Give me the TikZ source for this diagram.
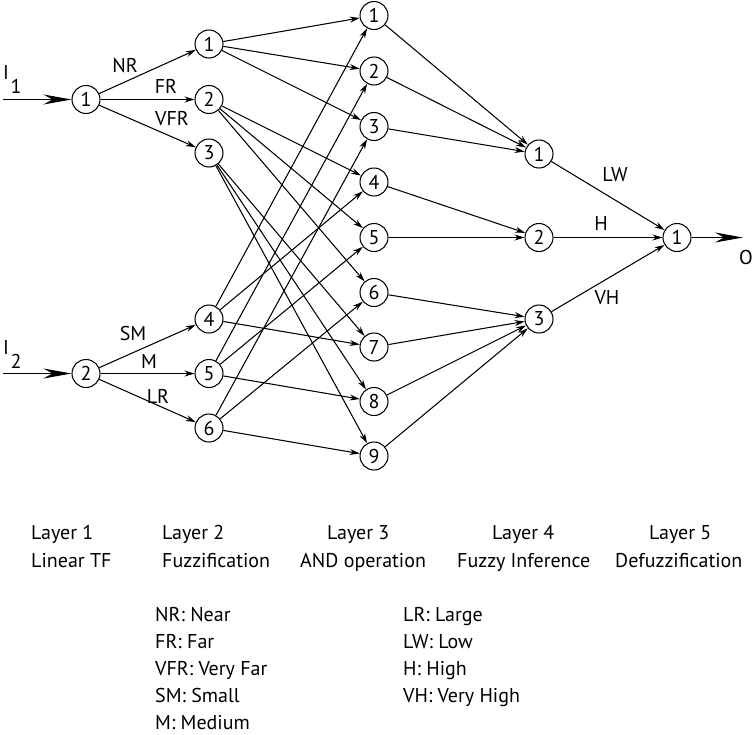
\documentclass[tikz,border=0pt]{standalone}
\usepackage{fontspec}
\setmainfont{PT Sans}
\usetikzlibrary{arrows.meta}

\tikzset{
	neuron/.style={draw, circle, line width=1.05pt, minimum size=28pt, inner sep=0pt, font=\fontsize{20}{22}\selectfont},
	link/.style={line width=1.05pt, -{Stealth[length=10pt,width=6pt]}},
	bigarrow/.style={line width=1.05pt, -{Stealth[length=28pt,width=10pt,inset=9pt]}},
	lbl/.style={font=\fontsize{20}{22}\selectfont, inner sep=0pt},
	txt/.style={font=\fontsize{20}{22}\selectfont, inner sep=0pt, anchor=base west},
}

\begin{document}
\begin{tikzpicture}[x=1pt,y=-1pt]
	\useasboundingbox (0,0) rectangle (755,734);
	
	%LAYER 1
	\node[neuron] (a1) at (86,99.5) {1};
	\node[neuron] (a2) at (86,373.5) {2};
	\coordinate (in1) at (3,99.5);
	\coordinate (in2) at (3,373.5);
	\draw[bigarrow] (in1) -- (a1);
	\draw[bigarrow] (in2) -- (a2);
	\node[lbl] (i1) at (6,72) {I};
	\node[lbl] (i1s) at (16,86) {1};
	\node[lbl] (i2) at (6,347) {I};
	\node[lbl] (i2s) at (16,361) {2};
	
	%LAYER 2
	\foreach \n/\y in {1/44,2/99.5,3/153,4/319,5/373.5,6/428}
		\node[neuron] (b\n) at (209,\y) {\n};
	\foreach \n in {1,...,6}{
		\pgfmathtruncatemacro\src{\n<4 ? 1 : 2}
		\draw[link] (a\src) -- (b\n);
	}
	\node[lbl] (nr) at (125,65) {NR};
	\node[lbl] (fr) at (166,86) {FR};
	\node[lbl] (vfr) at (172,119) {VFR};
	\node[lbl] (sm) at (133,333) {SM};
	\node[lbl] (m) at (149,361) {M};
	\node[lbl] (lr) at (158,396) {LR};
	
	%LAYER 3
	\foreach \n/\y in {1/15.5,2/71,3/126.5,4/182,5/237.5,6/292.5,7/347,8/401.5,9/456}
		\node[neuron] (c\n) at (374,\y) {\n};
	\foreach \i in {1,2,3}{
		\foreach \j in {1,2,3}{
			\pgfmathtruncatemacro\k{3*(\i-1)+\j}
			\draw[link] (b\i) -- (c\k);
		}
	}
	\foreach \m/\k in {4/1,4/4,4/7,5/2,5/5,5/8,6/3,6/6,6/9}
		\draw[link] (b\m) -- (c\k);
	
	%LAYER 4
	\node[neuron] (d1) at (539,154) {1};
	\node[neuron] (d2) at (539,237.5) {2};
	\node[neuron] (d3) at (539,319) {3};
	\foreach \s/\t in {1/1,2/1,3/1,4/2,5/2,6/3,7/3,8/3,9/3}
		\draw[link] (c\s) -- (d\t);
	
	%LAYER 5
	\node[neuron] (e1) at (677,237.5) {1};
	\foreach \t in {1,2,3}
		\draw[link] (d\t) -- (e1);
	\node[lbl] (lw) at (615,175) {LW};
	\node[lbl] (h) at (601,223) {H};
	\node[lbl] (vh) at (607,298) {VH};
	\coordinate (out) at (743,237.5);
	\draw[bigarrow] (e1) -- (out);
	\node[lbl] (o) at (746,257) {O};
	
	%TESTI
	\node[txt] (t1) at (31,539) {Layer 1};
	\node[txt] (t1b) at (31,567) {Linear TF};
	\node[txt] (t2) at (162,539) {Layer 2};
	\node[txt] (t2b) at (162,567) {Fuzzification};
	\node[txt] (t3) at (327,539) {Layer 3};
	\node[txt] (t3b) at (300,567) {AND operation};
	\node[txt] (t4) at (492,539) {Layer 4};
	\node[txt] (t4b) at (457,567) {Fuzzy Inference};
	\node[txt] (t5) at (649,539) {Layer 5};
	\node[txt] (t5b) at (615,567) {Defuzzification};
	
	%LEGENDA
	\foreach \t [count=\r] in {NR: Near, FR: Far, VFR: Very Far, SM: Small, M: Medium}
		\node[txt] (la\r) at (155,{621+27*(\r-1)}) {\t};
	\foreach \t [count=\r] in {LR: Large, LW: Low, H: High, VH: Very High}
		\node[txt] (lb\r) at (403,{621+27*(\r-1)}) {\t};
	
\end{tikzpicture}
\end{document}
